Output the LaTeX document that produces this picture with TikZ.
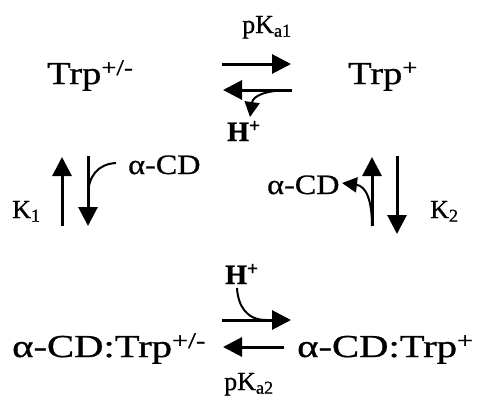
\documentclass[tikz,border=0pt]{standalone}
\usepackage{fontspec}
\setmainfont{Liberation Serif}[RawFeature={embolden=0.8}]
\usetikzlibrary{arrows.meta}
\newcommand{\bigtxt}[1]{\scalebox{1.2}[1]{#1}}
\newcommand{\lowtxt}[1]{\scalebox{1.27}[1]{#1}}
\newcommand{\midtxt}[1]{\scalebox{1.15}[1]{#1}}
\begin{document}
\begin{tikzpicture}[x=1pt,y=-1pt,
  big/.style={font=\fontsize{32}{36}\selectfont, inner sep=0pt, anchor=base west},
  lab/.style={font=\fontsize{26}{30}\selectfont, inner sep=0pt, anchor=base west},
  cdlab/.style={font=\fontsize{28}{32}\selectfont, inner sep=0pt, anchor=base west},
  hlab/.style={font=\fontsize{28}{32}\selectfont\bfseries, inner sep=0pt, anchor=base west},
  arr/.style={line width=3pt, -{Triangle[length=19pt,width=19pt]}},
  hook/.style={line width=2pt, -{Triangle[length=15pt,width=15pt]}},
  hookn/.style={line width=2pt}]
\useasboundingbox (0,0) rectangle (490,402);
% species
\node[big] (A) at (47,84) {\bigtxt{Trp\textsuperscript{+/-}}};
\node[big] (B) at (348,84) {\bigtxt{Trp\textsuperscript{+}}};
\node[big] (C) at (12,357) {\lowtxt{α-CD:Trp\textsuperscript{+/-}}};
\node[big] (D) at (297,357) {\lowtxt{α-CD:Trp\textsuperscript{+}}};
% labels
\node[lab] (pk1) at (242,33) {pK\textsubscript{a1}};
\node[lab] (pk2) at (224,390) {pK\textsubscript{a2}};
\node[hlab] (h1) at (227,141) {H\textsuperscript{+}};
\node[hlab] (h2) at (225,284) {H\textsuperscript{+}};
\node[cdlab] (cd1) at (128,174) {\midtxt{α-CD}};
\node[cdlab] (cd2) at (267,194) {\midtxt{α-CD}};
\node[lab] (k1) at (12,218) {K\textsubscript{1}};
\node[lab] (k2) at (430,218) {K\textsubscript{2}};
% arrow coordinates
\coordinate (t1s) at (222,64); \coordinate (t1e) at (291,64);
\coordinate (t2s) at (292,90); \coordinate (t2e) at (223,90);
\coordinate (b1s) at (222,320); \coordinate (b1e) at (291,320);
\coordinate (b2s) at (284,347); \coordinate (b2e) at (223,347);
\coordinate (l1s) at (62,226); \coordinate (l1e) at (62,157);
\coordinate (l2s) at (88,156); \coordinate (l2e) at (88,226);
\coordinate (r1s) at (372,226); \coordinate (r1e) at (372,157);
\coordinate (r2s) at (397,156); \coordinate (r2e) at (397,234);
\draw[arr] (t1s) -- (t1e);
\draw[arr] (t2s) -- (t2e);
\draw[arr] (b1s) -- (b1e);
\draw[arr] (b2s) -- (b2e);
\draw[arr] (l1s) -- (l1e);
\draw[arr] (l2s) -- (l2e);
\draw[arr] (r1s) -- (r1e);
\draw[arr] (r2s) -- (r2e);
% hooks
\coordinate (th) at (250,117);
\draw[hook] (t2s) .. controls (265,90) and (253,96) .. (th);
\coordinate (lh) at (116,163);
\coordinate (lj) at (88,196);
\draw[hookn] (lh) .. controls (98,164) and (88,176) .. (lj);
\coordinate (rh) at (342,183);
\draw[hook] (r1s) .. controls (372,200) and (366,186) .. (rh);
\coordinate (bh) at (237,288);
\coordinate (bj) at (266,320);
\draw[hookn] (bh) .. controls (238,305) and (246,320) .. (bj);
\end{tikzpicture}
\end{document}
